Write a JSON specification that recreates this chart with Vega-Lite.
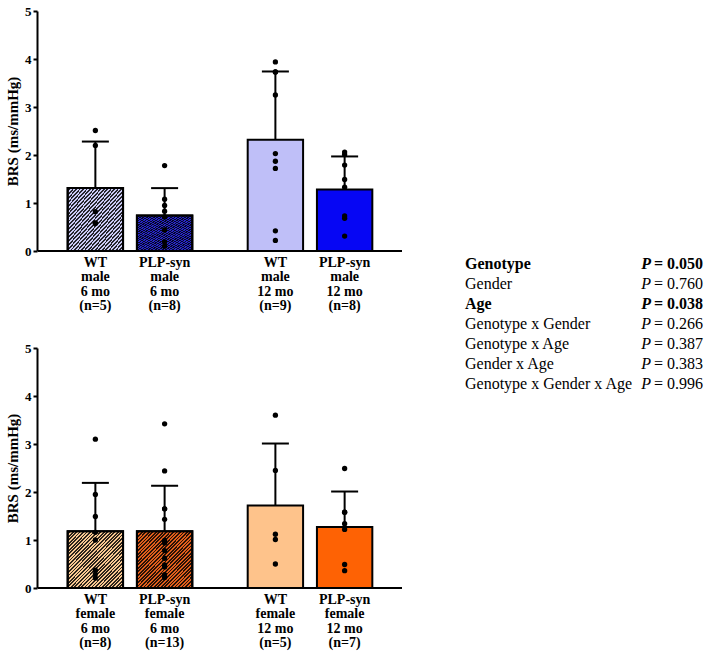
{
  "$schema": "https://vega.github.io/schema/vega-lite/v6.json",
  "datasets": {
    "brs": [
      {"kind": "bar", "sex": "male", "age": "6 mo", "genotype": "WT", "grp": "WT male 6 mo", "mean": 1.31, "hi": 2.28, "label": "WT\nmale\n6 mo\n(n=5)"},
      {"kind": "bar", "sex": "male", "age": "6 mo", "genotype": "PLP-syn", "grp": "PLP-syn male 6 mo", "mean": 0.74, "hi": 1.31, "label": "PLP-syn\nmale\n6 mo\n(n=8)"},
      {"kind": "bar", "sex": "male", "age": "12 mo", "genotype": "WT", "grp": "WT male 12 mo", "mean": 2.32, "hi": 3.74, "label": "WT\nmale\n12 mo\n(n=9)"},
      {"kind": "bar", "sex": "male", "age": "12 mo", "genotype": "PLP-syn", "grp": "PLP-syn male 12 mo", "mean": 1.28, "hi": 1.97, "label": "PLP-syn\nmale\n12 mo\n(n=8)"},
      {"kind": "bar", "sex": "female", "age": "6 mo", "genotype": "WT", "grp": "WT female 6 mo", "mean": 1.18, "hi": 2.19, "label": "WT\nfemale\n6 mo\n(n=8)"},
      {"kind": "bar", "sex": "female", "age": "6 mo", "genotype": "PLP-syn", "grp": "PLP-syn female 6 mo", "mean": 1.18, "hi": 2.13, "label": "PLP-syn\nfemale\n6 mo\n(n=13)"},
      {"kind": "bar", "sex": "female", "age": "12 mo", "genotype": "WT", "grp": "WT female 12 mo", "mean": 1.72, "hi": 3.01, "label": "WT\nfemale\n12 mo\n(n=5)"},
      {"kind": "bar", "sex": "female", "age": "12 mo", "genotype": "PLP-syn", "grp": "PLP-syn female 12 mo", "mean": 1.27, "hi": 2.01, "label": "PLP-syn\nfemale\n12 mo\n(n=7)"},

      {"kind": "pt", "sex": "male", "age": "6 mo", "genotype": "WT", "value": 2.51},
      {"kind": "pt", "sex": "male", "age": "6 mo", "genotype": "WT", "value": 2.20},
      {"kind": "pt", "sex": "male", "age": "6 mo", "genotype": "WT", "value": 0.82},
      {"kind": "pt", "sex": "male", "age": "6 mo", "genotype": "WT", "value": 0.58},
      {"kind": "pt", "sex": "male", "age": "6 mo", "genotype": "WT", "value": 0.58},

      {"kind": "pt", "sex": "male", "age": "6 mo", "genotype": "PLP-syn", "value": 1.78},
      {"kind": "pt", "sex": "male", "age": "6 mo", "genotype": "PLP-syn", "value": 1.08},
      {"kind": "pt", "sex": "male", "age": "6 mo", "genotype": "PLP-syn", "value": 0.95},
      {"kind": "pt", "sex": "male", "age": "6 mo", "genotype": "PLP-syn", "value": 0.83},
      {"kind": "pt", "sex": "male", "age": "6 mo", "genotype": "PLP-syn", "value": 0.71},
      {"kind": "pt", "sex": "male", "age": "6 mo", "genotype": "PLP-syn", "value": 0.44},
      {"kind": "pt", "sex": "male", "age": "6 mo", "genotype": "PLP-syn", "value": 0.19},
      {"kind": "pt", "sex": "male", "age": "6 mo", "genotype": "PLP-syn", "value": 0.10},

      {"kind": "pt", "sex": "male", "age": "12 mo", "genotype": "WT", "value": 3.94},
      {"kind": "pt", "sex": "male", "age": "12 mo", "genotype": "WT", "value": 3.73},
      {"kind": "pt", "sex": "male", "age": "12 mo", "genotype": "WT", "value": 3.73},
      {"kind": "pt", "sex": "male", "age": "12 mo", "genotype": "WT", "value": 3.25},
      {"kind": "pt", "sex": "male", "age": "12 mo", "genotype": "WT", "value": 2.03},
      {"kind": "pt", "sex": "male", "age": "12 mo", "genotype": "WT", "value": 1.87},
      {"kind": "pt", "sex": "male", "age": "12 mo", "genotype": "WT", "value": 1.72},
      {"kind": "pt", "sex": "male", "age": "12 mo", "genotype": "WT", "value": 0.42},
      {"kind": "pt", "sex": "male", "age": "12 mo", "genotype": "WT", "value": 0.22},

      {"kind": "pt", "sex": "male", "age": "12 mo", "genotype": "PLP-syn", "value": 2.06},
      {"kind": "pt", "sex": "male", "age": "12 mo", "genotype": "PLP-syn", "value": 2.01},
      {"kind": "pt", "sex": "male", "age": "12 mo", "genotype": "PLP-syn", "value": 1.79},
      {"kind": "pt", "sex": "male", "age": "12 mo", "genotype": "PLP-syn", "value": 1.49},
      {"kind": "pt", "sex": "male", "age": "12 mo", "genotype": "PLP-syn", "value": 1.33},
      {"kind": "pt", "sex": "male", "age": "12 mo", "genotype": "PLP-syn", "value": 0.73},
      {"kind": "pt", "sex": "male", "age": "12 mo", "genotype": "PLP-syn", "value": 0.68},
      {"kind": "pt", "sex": "male", "age": "12 mo", "genotype": "PLP-syn", "value": 0.31},

      {"kind": "pt", "sex": "female", "age": "6 mo", "genotype": "WT", "value": 3.10},
      {"kind": "pt", "sex": "female", "age": "6 mo", "genotype": "WT", "value": 1.95},
      {"kind": "pt", "sex": "female", "age": "6 mo", "genotype": "WT", "value": 1.49},
      {"kind": "pt", "sex": "female", "age": "6 mo", "genotype": "WT", "value": 1.16},
      {"kind": "pt", "sex": "female", "age": "6 mo", "genotype": "WT", "value": 1.00},
      {"kind": "pt", "sex": "female", "age": "6 mo", "genotype": "WT", "value": 0.37},
      {"kind": "pt", "sex": "female", "age": "6 mo", "genotype": "WT", "value": 0.29},
      {"kind": "pt", "sex": "female", "age": "6 mo", "genotype": "WT", "value": 0.21},

      {"kind": "pt", "sex": "female", "age": "6 mo", "genotype": "PLP-syn", "value": 3.42},
      {"kind": "pt", "sex": "female", "age": "6 mo", "genotype": "PLP-syn", "value": 2.44},
      {"kind": "pt", "sex": "female", "age": "6 mo", "genotype": "PLP-syn", "value": 1.65},
      {"kind": "pt", "sex": "female", "age": "6 mo", "genotype": "PLP-syn", "value": 1.65},
      {"kind": "pt", "sex": "female", "age": "6 mo", "genotype": "PLP-syn", "value": 1.43},
      {"kind": "pt", "sex": "female", "age": "6 mo", "genotype": "PLP-syn", "value": 0.99},
      {"kind": "pt", "sex": "female", "age": "6 mo", "genotype": "PLP-syn", "value": 0.94},
      {"kind": "pt", "sex": "female", "age": "6 mo", "genotype": "PLP-syn", "value": 0.78},
      {"kind": "pt", "sex": "female", "age": "6 mo", "genotype": "PLP-syn", "value": 0.62},
      {"kind": "pt", "sex": "female", "age": "6 mo", "genotype": "PLP-syn", "value": 0.48},
      {"kind": "pt", "sex": "female", "age": "6 mo", "genotype": "PLP-syn", "value": 0.44},
      {"kind": "pt", "sex": "female", "age": "6 mo", "genotype": "PLP-syn", "value": 0.28},
      {"kind": "pt", "sex": "female", "age": "6 mo", "genotype": "PLP-syn", "value": 0.22},

      {"kind": "pt", "sex": "female", "age": "12 mo", "genotype": "WT", "value": 3.60},
      {"kind": "pt", "sex": "female", "age": "12 mo", "genotype": "WT", "value": 2.45},
      {"kind": "pt", "sex": "female", "age": "12 mo", "genotype": "WT", "value": 1.12},
      {"kind": "pt", "sex": "female", "age": "12 mo", "genotype": "WT", "value": 1.01},
      {"kind": "pt", "sex": "female", "age": "12 mo", "genotype": "WT", "value": 0.50},

      {"kind": "pt", "sex": "female", "age": "12 mo", "genotype": "PLP-syn", "value": 2.49},
      {"kind": "pt", "sex": "female", "age": "12 mo", "genotype": "PLP-syn", "value": 1.58},
      {"kind": "pt", "sex": "female", "age": "12 mo", "genotype": "PLP-syn", "value": 1.58},
      {"kind": "pt", "sex": "female", "age": "12 mo", "genotype": "PLP-syn", "value": 1.34},
      {"kind": "pt", "sex": "female", "age": "12 mo", "genotype": "PLP-syn", "value": 1.22},
      {"kind": "pt", "sex": "female", "age": "12 mo", "genotype": "PLP-syn", "value": 0.49},
      {"kind": "pt", "sex": "female", "age": "12 mo", "genotype": "PLP-syn", "value": 0.36}
    ],
    "pvals": [
      {"row": 1, "term": "Genotype", "val": "= 0.050", "bold": true},
      {"row": 2, "term": "Gender", "val": "= 0.760", "bold": false},
      {"row": 3, "term": "Age", "val": "= 0.038", "bold": true},
      {"row": 4, "term": "Genotype x Gender", "val": "= 0.266", "bold": false},
      {"row": 5, "term": "Genotype x Age", "val": "= 0.387", "bold": false},
      {"row": 6, "term": "Gender x Age", "val": "= 0.383", "bold": false},
      {"row": 7, "term": "Genotype x Gender x Age", "val": "= 0.996", "bold": false}
    ]
  },
  "hconcat": [
    {
      "data": {"name": "brs"},
      "facet": {
        "row": {"field": "sex", "type": "nominal", "sort": ["male", "female"], "header": {"title": null, "labels": false}}
      },
      "spacing": {"row": 35},
      "spec": {
        "width": 364,
        "height": 240,
        "layer": [
          {
            "transform": [{"filter": "datum.kind === 'bar'"}],
            "mark": {"type": "bar", "stroke": "black", "strokeWidth": 2, "opacity": 1},
            "encoding": {
              "x": {"field": "age", "type": "nominal", "sort": ["6 mo", "12 mo"], "scale": {"paddingInner": 0, "paddingOuter": 0.011}, "axis": null},
              "xOffset": {"field": "genotype", "type": "nominal", "sort": ["WT", "PLP-syn"], "scale": {"paddingInner": 0.2, "paddingOuter": 0.4}},
              "y": {"field": "mean", "type": "quantitative", "title": "BRS (ms/mmHg)", "scale": {"domain": [0, 5]}, "axis": {"values": [0, 1, 2, 3, 4, 5]}},
              "color": {
                "field": "grp", "type": "nominal", "legend": null,
                "scale": {
                  "domain": ["WT male 6 mo", "PLP-syn male 6 mo", "WT male 12 mo", "PLP-syn male 12 mo", "WT female 6 mo", "PLP-syn female 6 mo", "WT female 12 mo", "PLP-syn female 12 mo"],
                  "range": ["#cacaf4", "#2626c8", "#bfbff8", "#0606f4", "#f8c892", "#e05e1c", "#fec38b", "#fe6204"]
                }
              }
            }
          },
          {
            "transform": [{"filter": "datum.kind === 'bar' && datum.age === '6 mo'"}],
            "mark": {
              "type": "bar", "stroke": "black", "strokeWidth": 2, "fillOpacity": 0.82,
              "fill": {
                "gradient": "linear", "x1": 0, "y1": 0, "x2": 1, "y2": 1,
                "stops": [
                  {"offset": 0, "color": "rgba(0,0,0,0)"}, {"offset": 0.016, "color": "rgba(0,0,0,0)"},
                  {"offset": 0.016, "color": "#000"}, {"offset": 0.031, "color": "#000"},
                  {"offset": 0.031, "color": "rgba(0,0,0,0)"}, {"offset": 0.047, "color": "rgba(0,0,0,0)"},
                  {"offset": 0.047, "color": "#000"}, {"offset": 0.063, "color": "#000"},
                  {"offset": 0.063, "color": "rgba(0,0,0,0)"}, {"offset": 0.078, "color": "rgba(0,0,0,0)"},
                  {"offset": 0.078, "color": "#000"}, {"offset": 0.094, "color": "#000"},
                  {"offset": 0.094, "color": "rgba(0,0,0,0)"}, {"offset": 0.109, "color": "rgba(0,0,0,0)"},
                  {"offset": 0.109, "color": "#000"}, {"offset": 0.125, "color": "#000"},
                  {"offset": 0.125, "color": "rgba(0,0,0,0)"}, {"offset": 0.141, "color": "rgba(0,0,0,0)"},
                  {"offset": 0.141, "color": "#000"}, {"offset": 0.156, "color": "#000"},
                  {"offset": 0.156, "color": "rgba(0,0,0,0)"}, {"offset": 0.172, "color": "rgba(0,0,0,0)"},
                  {"offset": 0.172, "color": "#000"}, {"offset": 0.188, "color": "#000"},
                  {"offset": 0.188, "color": "rgba(0,0,0,0)"}, {"offset": 0.203, "color": "rgba(0,0,0,0)"},
                  {"offset": 0.203, "color": "#000"}, {"offset": 0.219, "color": "#000"},
                  {"offset": 0.219, "color": "rgba(0,0,0,0)"}, {"offset": 0.234, "color": "rgba(0,0,0,0)"},
                  {"offset": 0.234, "color": "#000"}, {"offset": 0.25, "color": "#000"},
                  {"offset": 0.25, "color": "rgba(0,0,0,0)"}, {"offset": 0.266, "color": "rgba(0,0,0,0)"},
                  {"offset": 0.266, "color": "#000"}, {"offset": 0.281, "color": "#000"},
                  {"offset": 0.281, "color": "rgba(0,0,0,0)"}, {"offset": 0.297, "color": "rgba(0,0,0,0)"},
                  {"offset": 0.297, "color": "#000"}, {"offset": 0.313, "color": "#000"},
                  {"offset": 0.313, "color": "rgba(0,0,0,0)"}, {"offset": 0.328, "color": "rgba(0,0,0,0)"},
                  {"offset": 0.328, "color": "#000"}, {"offset": 0.344, "color": "#000"},
                  {"offset": 0.344, "color": "rgba(0,0,0,0)"}, {"offset": 0.359, "color": "rgba(0,0,0,0)"},
                  {"offset": 0.359, "color": "#000"}, {"offset": 0.375, "color": "#000"},
                  {"offset": 0.375, "color": "rgba(0,0,0,0)"}, {"offset": 0.391, "color": "rgba(0,0,0,0)"},
                  {"offset": 0.391, "color": "#000"}, {"offset": 0.406, "color": "#000"},
                  {"offset": 0.406, "color": "rgba(0,0,0,0)"}, {"offset": 0.422, "color": "rgba(0,0,0,0)"},
                  {"offset": 0.422, "color": "#000"}, {"offset": 0.438, "color": "#000"},
                  {"offset": 0.438, "color": "rgba(0,0,0,0)"}, {"offset": 0.453, "color": "rgba(0,0,0,0)"},
                  {"offset": 0.453, "color": "#000"}, {"offset": 0.469, "color": "#000"},
                  {"offset": 0.469, "color": "rgba(0,0,0,0)"}, {"offset": 0.484, "color": "rgba(0,0,0,0)"},
                  {"offset": 0.484, "color": "#000"}, {"offset": 0.5, "color": "#000"},
                  {"offset": 0.5, "color": "rgba(0,0,0,0)"}, {"offset": 0.516, "color": "rgba(0,0,0,0)"},
                  {"offset": 0.516, "color": "#000"}, {"offset": 0.531, "color": "#000"},
                  {"offset": 0.531, "color": "rgba(0,0,0,0)"}, {"offset": 0.547, "color": "rgba(0,0,0,0)"},
                  {"offset": 0.547, "color": "#000"}, {"offset": 0.563, "color": "#000"},
                  {"offset": 0.563, "color": "rgba(0,0,0,0)"}, {"offset": 0.578, "color": "rgba(0,0,0,0)"},
                  {"offset": 0.578, "color": "#000"}, {"offset": 0.594, "color": "#000"},
                  {"offset": 0.594, "color": "rgba(0,0,0,0)"}, {"offset": 0.609, "color": "rgba(0,0,0,0)"},
                  {"offset": 0.609, "color": "#000"}, {"offset": 0.625, "color": "#000"},
                  {"offset": 0.625, "color": "rgba(0,0,0,0)"}, {"offset": 0.641, "color": "rgba(0,0,0,0)"},
                  {"offset": 0.641, "color": "#000"}, {"offset": 0.656, "color": "#000"},
                  {"offset": 0.656, "color": "rgba(0,0,0,0)"}, {"offset": 0.672, "color": "rgba(0,0,0,0)"},
                  {"offset": 0.672, "color": "#000"}, {"offset": 0.688, "color": "#000"},
                  {"offset": 0.688, "color": "rgba(0,0,0,0)"}, {"offset": 0.703, "color": "rgba(0,0,0,0)"},
                  {"offset": 0.703, "color": "#000"}, {"offset": 0.719, "color": "#000"},
                  {"offset": 0.719, "color": "rgba(0,0,0,0)"}, {"offset": 0.734, "color": "rgba(0,0,0,0)"},
                  {"offset": 0.734, "color": "#000"}, {"offset": 0.75, "color": "#000"},
                  {"offset": 0.75, "color": "rgba(0,0,0,0)"}, {"offset": 0.766, "color": "rgba(0,0,0,0)"},
                  {"offset": 0.766, "color": "#000"}, {"offset": 0.781, "color": "#000"},
                  {"offset": 0.781, "color": "rgba(0,0,0,0)"}, {"offset": 0.797, "color": "rgba(0,0,0,0)"},
                  {"offset": 0.797, "color": "#000"}, {"offset": 0.813, "color": "#000"},
                  {"offset": 0.813, "color": "rgba(0,0,0,0)"}, {"offset": 0.828, "color": "rgba(0,0,0,0)"},
                  {"offset": 0.828, "color": "#000"}, {"offset": 0.844, "color": "#000"},
                  {"offset": 0.844, "color": "rgba(0,0,0,0)"}, {"offset": 0.859, "color": "rgba(0,0,0,0)"},
                  {"offset": 0.859, "color": "#000"}, {"offset": 0.875, "color": "#000"},
                  {"offset": 0.875, "color": "rgba(0,0,0,0)"}, {"offset": 0.891, "color": "rgba(0,0,0,0)"},
                  {"offset": 0.891, "color": "#000"}, {"offset": 0.906, "color": "#000"},
                  {"offset": 0.906, "color": "rgba(0,0,0,0)"}, {"offset": 0.922, "color": "rgba(0,0,0,0)"},
                  {"offset": 0.922, "color": "#000"}, {"offset": 0.938, "color": "#000"},
                  {"offset": 0.938, "color": "rgba(0,0,0,0)"}, {"offset": 0.953, "color": "rgba(0,0,0,0)"},
                  {"offset": 0.953, "color": "#000"}, {"offset": 0.969, "color": "#000"},
                  {"offset": 0.969, "color": "rgba(0,0,0,0)"}, {"offset": 0.984, "color": "rgba(0,0,0,0)"},
                  {"offset": 0.984, "color": "#000"}, {"offset": 1, "color": "#000"}
                ]
              }
            },
            "encoding": {
              "x": {"field": "age", "type": "nominal", "sort": ["6 mo", "12 mo"], "axis": null},
              "xOffset": {"field": "genotype", "type": "nominal", "sort": ["WT", "PLP-syn"]},
              "y": {"field": "mean", "type": "quantitative", "title": "BRS (ms/mmHg)"}
            }
          },
          {
            "transform": [{"filter": "datum.kind === 'bar'"}],
            "mark": {"type": "rule", "color": "black", "strokeWidth": 2},
            "encoding": {
              "y": {"datum": 0}
            }
          },
          {
            "transform": [{"filter": "datum.kind === 'bar'"}],
            "mark": {"type": "rule", "color": "black", "strokeWidth": 2},
            "encoding": {
              "x": {"field": "age", "type": "nominal", "sort": ["6 mo", "12 mo"], "axis": null},
              "xOffset": {"field": "genotype", "type": "nominal", "sort": ["WT", "PLP-syn"]},
              "y": {"field": "mean", "type": "quantitative", "title": "BRS (ms/mmHg)"},
              "y2": {"field": "hi"}
            }
          },
          {
            "transform": [{"filter": "datum.kind === 'bar'"}],
            "mark": {"type": "tick", "color": "black", "size": 27, "thickness": 2, "opacity": 1},
            "encoding": {
              "x": {"field": "age", "type": "nominal", "sort": ["6 mo", "12 mo"], "axis": null},
              "xOffset": {"field": "genotype", "type": "nominal", "sort": ["WT", "PLP-syn"]},
              "y": {"field": "hi", "type": "quantitative", "title": "BRS (ms/mmHg)"}
            }
          },
          {
            "transform": [{"filter": "datum.kind === 'pt'"}],
            "mark": {"type": "circle", "color": "black", "size": 28, "opacity": 1},
            "encoding": {
              "x": {"field": "age", "type": "nominal", "sort": ["6 mo", "12 mo"], "axis": null},
              "xOffset": {"field": "genotype", "type": "nominal", "sort": ["WT", "PLP-syn"]},
              "y": {"field": "value", "type": "quantitative", "title": "BRS (ms/mmHg)"}
            }
          },
          {
            "transform": [{"filter": "datum.kind === 'bar'"}],
            "mark": {"type": "text", "baseline": "top", "dy": 5, "lineBreak": "\n", "lineHeight": 14.3, "font": "Liberation Serif", "fontSize": 14, "fontWeight": "bold", "color": "black"},
            "encoding": {
              "x": {"field": "age", "type": "nominal", "sort": ["6 mo", "12 mo"], "axis": null},
              "xOffset": {"field": "genotype", "type": "nominal", "sort": ["WT", "PLP-syn"]},
              "y": {"datum": 0},
              "text": {"field": "label"}
            }
          }
        ]
      }
    },
    {
      "data": {"name": "pvals"},
      "width": 238,
      "height": 626,
      "encoding": {
        "y": {"field": "row", "type": "quantitative", "axis": null,
          "scale": {"domain": [-11.65, 19.65], "reverse": true, "nice": false, "zero": false}}
      },
      "layer": [
        {
          "transform": [{"filter": "!datum.bold"}],
          "mark": {"type": "text", "align": "left", "baseline": "middle", "font": "Liberation Serif", "fontSize": 16, "color": "black"},
          "encoding": {
            "x": {"datum": "L", "type": "nominal", "scale": {"type": "point", "domain": ["L", "R"], "padding": 0}, "axis": null},
            "text": {"field": "term"}
          }
        },
        {
          "transform": [{"filter": "datum.bold"}],
          "mark": {"type": "text", "align": "left", "baseline": "middle", "font": "Liberation Serif", "fontSize": 16, "fontWeight": "bold", "color": "black"},
          "encoding": {
            "x": {"datum": "L", "type": "nominal"},
            "text": {"field": "term"}
          }
        },
        {
          "transform": [{"filter": "!datum.bold"}],
          "mark": {"type": "text", "align": "right", "baseline": "middle", "dx": -52, "font": "Liberation Serif", "fontSize": 16, "fontStyle": "italic", "color": "black"},
          "encoding": {
            "x": {"datum": "R", "type": "nominal"},
            "text": {"value": "P"}
          }
        },
        {
          "transform": [{"filter": "datum.bold"}],
          "mark": {"type": "text", "align": "right", "baseline": "middle", "dx": -52, "font": "Liberation Serif", "fontSize": 16, "fontStyle": "italic", "fontWeight": "bold", "color": "black"},
          "encoding": {
            "x": {"datum": "R", "type": "nominal"},
            "text": {"value": "P"}
          }
        },
        {
          "transform": [{"filter": "!datum.bold"}],
          "mark": {"type": "text", "align": "right", "baseline": "middle", "font": "Liberation Serif", "fontSize": 16, "color": "black"},
          "encoding": {
            "x": {"datum": "R", "type": "nominal"},
            "text": {"field": "val"}
          }
        },
        {
          "transform": [{"filter": "datum.bold"}],
          "mark": {"type": "text", "align": "right", "baseline": "middle", "font": "Liberation Serif", "fontSize": 16, "fontWeight": "bold", "color": "black"},
          "encoding": {
            "x": {"datum": "R", "type": "nominal"},
            "text": {"field": "val"}
          }
        }
      ]
    }
  ],
  "spacing": 62,
  "config": {
    "font": "Liberation Serif",
    "view": {"stroke": null},
    "axisY": {
      "domainColor": "black", "domainWidth": 2, "tickColor": "black", "tickWidth": 2, "tickSize": 4,
      "labelFont": "Liberation Serif", "labelFontSize": 13, "labelFontWeight": "bold", "labelColor": "black", "labelPadding": 2,
      "titleFont": "Liberation Serif", "titleFontSize": 15, "titleFontWeight": "bold", "titleColor": "black", "titlePadding": 4,
      "grid": false
    }
  }
}
